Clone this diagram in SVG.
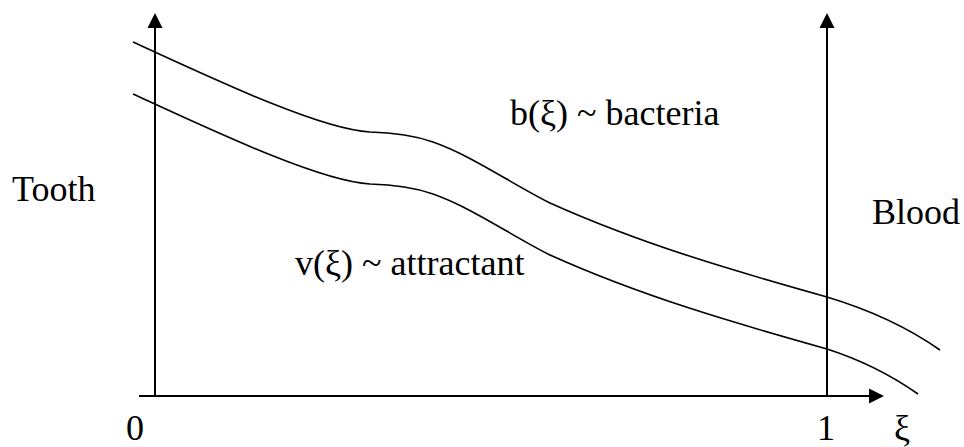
<svg xmlns="http://www.w3.org/2000/svg" width="964" height="447" viewBox="0 0 964 447">
  <style>
    .axis { stroke: #000; stroke-width: 2; fill: none; marker-end: url(#arrow); }
    .curve { stroke: #000; stroke-width: 1.6; fill: none; }
    .lbl { font-family: "Liberation Serif", "Times New Roman", serif; font-size: 36px; fill: #000; }
  </style>
  <defs>
    <marker id="arrow" markerUnits="userSpaceOnUse" markerWidth="16" markerHeight="16" viewBox="0 -8 16 16" refX="0" refY="0" orient="auto" overflow="visible">
      <path d="M0,-7.5 L15,0 L0,7.5 Z" fill="#000"/>
    </marker>
  </defs>
  <rect width="964" height="447" fill="#fff"/>
  <g id="connectors">
    <line id="axis-left" class="axis" x1="155" y1="396" x2="155" y2="28"/>
    <line id="axis-right" class="axis" x1="827" y1="396" x2="827" y2="28"/>
    <line id="axis-xi" class="axis" x1="139" y1="396" x2="869" y2="396"/>
  </g>
  <g id="curve-b">
    <path class="curve" d="M133,42 C212,78.3 320,129.5 370,132 C391,132.5 412,134.6 433,142 C472,155.7 511,183.5 550,203 C642,244.4 735,271.2 827,297 C865,308.4 902,323.4 940,350"/>
  </g>
  <g id="curve-v">
    <path class="curve" d="M133,94 C212,130.3 320,181.5 370,184 C391,184.5 412,186.6 433,194 C472,207.7 511,235.5 550,255 C642,296.4 735,323.2 827,349 C857,358.6 888,373 918,394"/>
  </g>
  <g id="label-tooth"><text class="lbl" x="12" y="201">Tooth</text></g>
  <g id="label-blood"><text class="lbl" x="872" y="224">Blood</text></g>
  <g id="label-b"><text class="lbl" x="510" y="125">b(ξ) ~ bacteria</text></g>
  <g id="label-v"><text class="lbl" x="295" y="275">v(ξ) ~ attractant</text></g>
  <g id="label-0"><text class="lbl" x="126" y="440">0</text></g>
  <g id="label-1"><text class="lbl" x="817" y="440">1</text></g>
  <g id="label-xi"><text class="lbl" x="894" y="440">ξ</text></g>
</svg>
